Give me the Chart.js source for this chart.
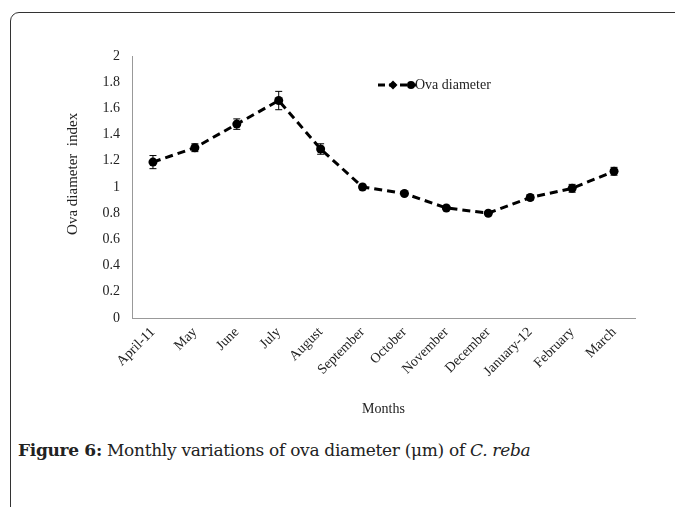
<!DOCTYPE html>
<html>
<head>
<meta charset="utf-8">
<script src="https://cdn.jsdelivr.net/npm/chart.js@4"></script>
<style>
  body { margin: 0; background: #fff; width: 675px; height: 507px; overflow: hidden; position: relative; }
  #frame { position: absolute; left: 10px; top: 12px; width: 720px; height: 560px;
           border: 1.5px solid #333; border-top-left-radius: 9px; box-sizing: border-box; }
  #ova-chart { position: absolute; left: 0; top: 0; }
  #caption { position: absolute; left: 18px; top: 440px; font-family: "DejaVu Serif", serif;
             font-size: 17px; color: #222; white-space: nowrap; letter-spacing: -0.3px; }
  #caption b { font-weight: bold; }
</style>
</head>
<body>
<div id="frame"></div>
<canvas id="ova-chart" width="675" height="430"></canvas>
<div id="caption"><b>Figure 6:</b> Monthly variations of ova diameter (μm) of <i>C. reba</i></div>
<script>
const months = ['April-11', 'May', 'June', 'July', 'August', 'September', 'October',
  'November', 'December', 'January-12', 'February', 'March'];
const ovaDiameter = [1.19, 1.30, 1.48, 1.66, 1.29, 1.00, 0.95, 0.84, 0.80, 0.92, 0.99, 1.12];
const ovaError = [0.05, 0.03, 0.04, 0.07, 0.04, 0.02, 0.01, 0.01, 0.01, 0.02, 0.03, 0.03];
const yTicks = [0, 0.2, 0.4, 0.6, 0.8, 1, 1.2, 1.4, 1.6, 1.8, 2];

const serif = '"Liberation Serif", "Times New Roman", serif';

// vertical error bars drawn off the y scale
const errorBars = {
  id: 'errorBars',
  afterDatasetsDraw(chart) {
    const ctx = chart.ctx;
    const y = chart.scales.y;
    const meta = chart.getDatasetMeta(0);
    ctx.save();
    ctx.strokeStyle = '#000';
    ctx.lineWidth = 1;
    meta.data.forEach((pt, i) => {
      const v = ovaDiameter[i], e = ovaError[i];
      const top = y.getPixelForValue(v + e);
      const bot = y.getPixelForValue(v - e);
      ctx.beginPath();
      ctx.moveTo(pt.x, top); ctx.lineTo(pt.x, bot);
      ctx.moveTo(pt.x - 3.5, top); ctx.lineTo(pt.x + 3.5, top);
      ctx.moveTo(pt.x - 3.5, bot); ctx.lineTo(pt.x + 3.5, bot);
      ctx.stroke();
    });
    ctx.restore();
  }
};

// small legend inside the plot, top right
const insideLegend = {
  id: 'insideLegend',
  afterDraw(chart) {
    const ctx = chart.ctx;
    const x0 = 378, y0 = 85;
    ctx.save();
    ctx.strokeStyle = '#000';
    ctx.fillStyle = '#000';
    ctx.lineWidth = 3;
    ctx.setLineDash([7, 4]);
    ctx.beginPath();
    ctx.moveTo(x0, y0); ctx.lineTo(x0 + 38, y0);
    ctx.stroke();
    ctx.setLineDash([]);
    // diamond
    ctx.beginPath();
    ctx.moveTo(x0 + 15, y0 - 4.5); ctx.lineTo(x0 + 19.5, y0);
    ctx.lineTo(x0 + 15, y0 + 4.5); ctx.lineTo(x0 + 10.5, y0);
    ctx.closePath(); ctx.fill();
    // circle
    ctx.beginPath();
    ctx.arc(x0 + 33, y0, 4, 0, Math.PI * 2);
    ctx.fill();
    ctx.font = '14px ' + serif;
    ctx.textBaseline = 'middle';
    ctx.fillStyle = '#222';
    ctx.fillText(chart.data.datasets[0].label, x0 + 37, y0 + 0.5);
    ctx.restore();
  }
};

new Chart(document.getElementById('ova-chart'), {
  type: 'line',
  data: {
    labels: months,
    datasets: [{
      label: 'Ova diameter',
      data: ovaDiameter,
      borderColor: '#000',
      backgroundColor: '#000',
      borderWidth: 3,
      borderDash: [8, 5],
      pointStyle: 'circle',
      pointRadius: 4.5,
      pointBorderWidth: 0,
      tension: 0,
      fill: false
    }]
  },
  options: {
    responsive: false,
    animation: false,
    layout: { padding: { top: 56, right: 40, left: 0, bottom: 0 } },
    plugins: { legend: { display: false }, tooltip: { enabled: false } },
    scales: {
      x: {
        offset: true,
        grid: { display: false, drawTicks: false },
        border: { color: '#999', width: 1 },
        ticks: {
          autoSkip: false, maxRotation: 45, minRotation: 45, padding: 6,
          color: '#222', font: { family: serif, size: 14 }
        },
        title: {
          display: true, text: 'Months', color: '#222',
          font: { family: serif, size: 14 }, padding: { top: 0, bottom: 12 }
        },
        afterFit(scale) { scale.height = 112; }
      },
      y: {
        min: 0, max: 2,
        afterBuildTicks(scale) { scale.ticks = yTicks.map(v => ({ value: v })); },
        grid: { display: false, drawTicks: false },
        border: { color: '#999', width: 1 },
        ticks: {
          padding: 12, color: '#222', font: { family: serif, size: 14 },
          callback: v => String(v)
        },
        title: {
          display: true, text: '       Ova diameter  index', color: '#222',
          font: { family: serif, size: 15 }, padding: { top: 64, bottom: 0 }
        },
        afterFit(scale) { scale.width = 132; }
      }
    }
  },
  plugins: [errorBars, insideLegend]
});
</script>
</body>
</html>
